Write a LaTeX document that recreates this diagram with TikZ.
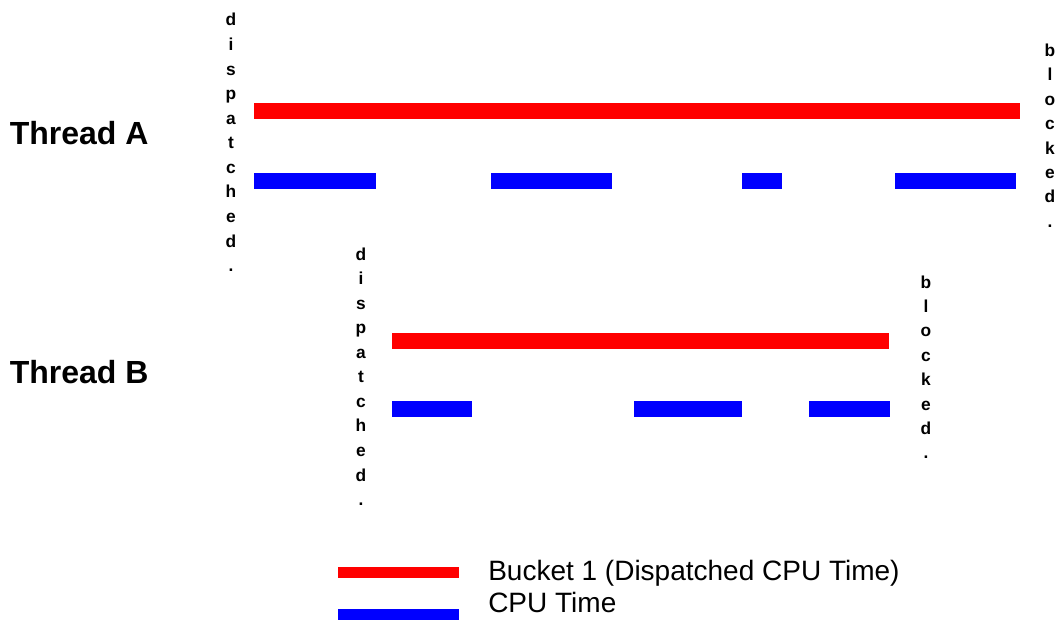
\documentclass[tikz,border=0pt]{standalone}
\usepackage{fontspec}
\setmainfont{Liberation Sans}
\begin{document}
\begin{tikzpicture}[x=0.75pt,y=-0.75pt,
  redbar/.style={fill=red},
  bluebar/.style={fill=blue},
  vlet/.style={font=\fontsize{13}{15}\selectfont\bfseries, anchor=base, inner sep=0pt},
  thread/.style={font=\fontsize{24}{28}\selectfont\bfseries, anchor=base west, inner sep=0pt},
  legendtext/.style={font=\fontsize{21}{24}\selectfont, anchor=base west, inner sep=0pt}]
\useasboundingbox (0,0) rectangle (1059,621);

% Thread labels
\node[thread] (thA) at (9.5,144.3) {Thread A};
\node[thread] (thB) at (9.5,383.5) {Thread B};

% Thread A bars
\fill[redbar] (254,103) rectangle (1020,119);
\fill[bluebar] (254,173.3) rectangle (376,189.3);
\fill[bluebar] (491,173.3) rectangle (612,189.3);
\fill[bluebar] (741.7,173.3) rectangle (782.3,189.3);
\fill[bluebar] (895,173.3) rectangle (1015.7,189.3);

% Thread B bars
\fill[redbar] (392,333) rectangle (889,349);
\fill[bluebar] (392,401) rectangle (472.3,416.7);
\fill[bluebar] (634,401) rectangle (741.7,416.7);
\fill[bluebar] (809,401) rectangle (889.7,416.7);

% vertical words
\foreach \l [count=\i from 0] in {d,i,s,p,a,t,c,h,e,d,.}
  \node[vlet] (dA\i) at (231, 26+24.56*\i) {\l};
\foreach \l [count=\i from 0] in {b,l,o,c,k,e,d,.}
  \node[vlet] (bA\i) at (1050, 56.5+24.4*\i) {\l};
\foreach \l [count=\i from 0] in {d,i,s,p,a,t,c,h,e,d,.}
  \node[vlet] (dB\i) at (361, 260+24.56*\i) {\l};
\foreach \l [count=\i from 0] in {b,l,o,c,k,e,d,.}
  \node[vlet] (bB\i) at (926, 288+24.4*\i) {\l};

% legend
\fill[redbar] (338,567.3) rectangle (459.3,578.3);
\fill[bluebar] (338,609.3) rectangle (459.3,620.3);
\node[legendtext] (lg1) at (488,580.7) {Bucket 1 (Dispatched CPU Time)};
\node[legendtext] (lg2) at (488,612) {CPU Time};
\end{tikzpicture}
\end{document}
